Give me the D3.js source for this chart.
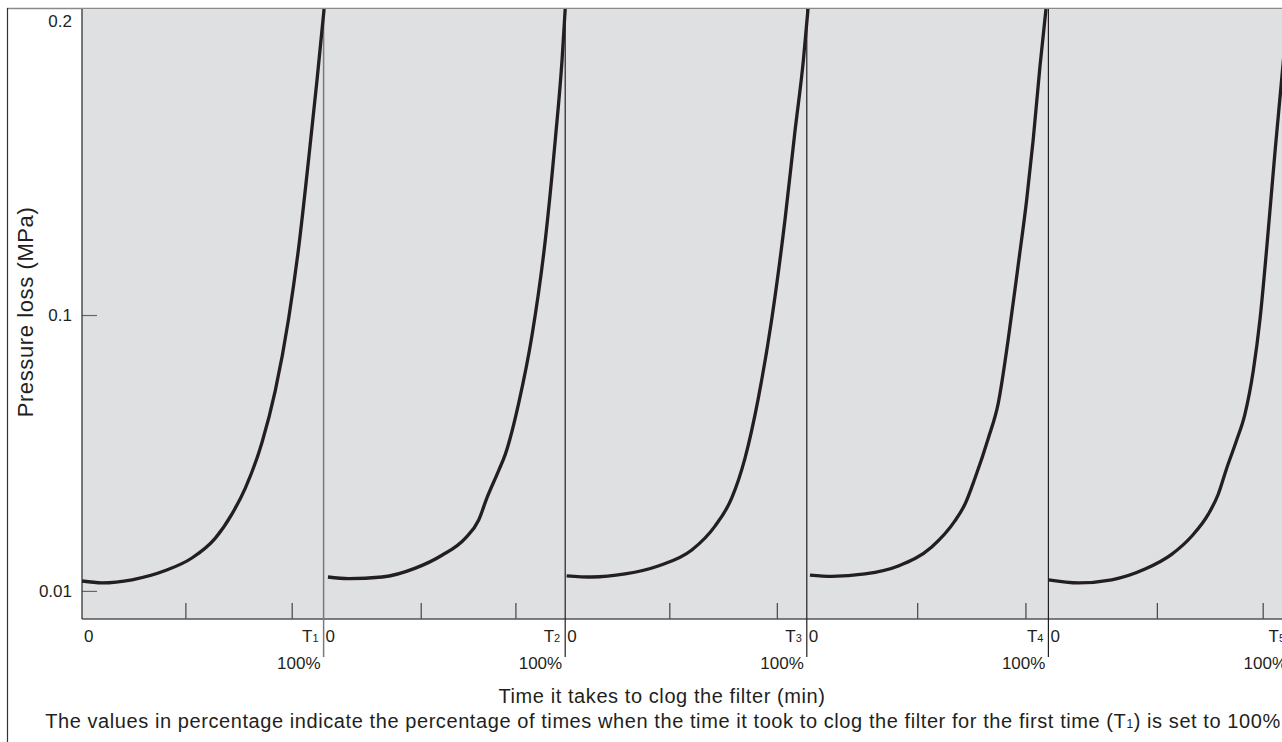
<!DOCTYPE html>
<html><head><meta charset="utf-8">
<script src="https://cdn.jsdelivr.net/npm/d3@7"></script>
<style>body{margin:0;background:#fff;overflow:hidden} text{font-family:"Liberation Sans",Arial,Helvetica,sans-serif;fill:#231f20}</style>
</head><body><svg id="c" width="1282" height="742"></svg>
<script>
// ---- data ----
const panelNames = ["T","T","T","T","T"];
const panelSubs = ["1","2","3","4","5"];
const startLabel = "0";
const endLabel = "100%";
const yTicks = [0.01, 0.1, 0.2];
const yTickLabels = ["0.01", "0.1", "0.2"];
const minorTicks1 = [43.0, 87.0];
const minorTicks2 = [40.4, 79.6];
const minorTicks3 = [43.3, 87.8];
const minorTicks4 = [45.9, 90.7];
const minorTicks5 = [45.1, 88.9];
// percentage of clog time (x) vs pressure loss MPa (y)
const curve1 = [[0,0.0134],[8.3,0.0128],[20.7,0.0138],[34.5,0.0168],[45.5,0.0209],[55.2,0.0274],[62.1,0.0353],[67.6,0.0437],[74.5,0.0586],[80.0,0.0755],[85.5,0.0989],[89.7,0.1223],[93.8,0.1510],[97.3,0.1770],[100.2,0.2]];
const curve2 = [[1.8,0.0147],[10.4,0.0142],[24.2,0.0147],[38.0,0.0176],[49.0,0.0218],[58.7,0.0274],[64.2,0.0333],[67.6,0.0405],[72.5,0.0495],[75.2,0.0547],[80.8,0.0716],[86.3,0.0937],[91.8,0.1249],[95.9,0.1574],[98.7,0.1834],[100,0.2]];
const curve3 = [[0.6,0.0151],[11.0,0.0147],[24.8,0.0157],[38.5,0.0183],[52.4,0.0235],[62.0,0.0313],[68.9,0.0404],[74.4,0.0534],[79.9,0.0729],[85.5,0.0989],[91.0,0.1314],[95.1,0.1601],[98.6,0.1834],[100.5,0.2]];
const curve4 = [[1.3,0.0153],[10.3,0.0149],[24.1,0.0157],[37.9,0.0183],[51.7,0.0245],[61.3,0.0330],[65.5,0.0385],[69.6,0.0469],[75.1,0.0599],[79.3,0.0716],[83.4,0.0924],[87.5,0.1165],[91.0,0.1377],[93.7,0.1573],[96.5,0.1812],[99.0,0.2]];
const curve5 = [[0,0.0138],[12.4,0.0128],[26.2,0.0138],[40.0,0.0173],[51.0,0.0221],[59.3,0.0280],[66.2,0.0352],[70.3,0.0417],[73.8,0.0502],[77.9,0.0593],[81.3,0.0677],[84.8,0.0820],[87.6,0.0989],[90.4,0.1223],[93.8,0.1535],[96.7,0.1783],[99.2,0.2]];
const curves = [curve1, curve2, curve3, curve4, curve5];
const minorTicks = [minorTicks1, minorTicks2, minorTicks3, minorTicks4, minorTicks5];
const yTitle = "Pressure loss (MPa)";
const xTitle = "Time it takes to clog the filter (min)";
const notePre = "The values in percentage indicate the percentage of times when the time it took to clog the filter for the first time (T";
const noteSub = "1";
const notePost = ") is set to 100%";

// ---- layout ----
const W = 1282, H = 742;
const plotL = 82, plotT = 9, plotB = 619;
const panelW = 241.6;
const nP = curves.length;
const svg = d3.select("#c");
const x = d3.scaleLinear().domain([0, nP * 100]).range([plotL, plotL + panelW * nP]);
const y = d3.scaleLinear().domain([0.001, 0.2]).range([plotB, plotT]);
const ink = "#231f20";

// outer frame
svg.append("line").attr("x1", 7).attr("x2", W).attr("y1", 8.5).attr("y2", 8.5).attr("stroke", "#8a8a8a").attr("stroke-width", 1.6);
svg.append("line").attr("x1", 7.5).attr("x2", 7.5).attr("y1", 8).attr("y2", H).attr("stroke", "#333").attr("stroke-width", 1.2);

// plot background
svg.append("rect").attr("x", x(0)).attr("y", plotT + 0.5).attr("width", x(nP * 100) - x(0)).attr("height", plotB - plotT - 0.5).attr("fill", "#dfe0e2");

const defs = svg.append("defs");
defs.append("clipPath").attr("id", "clip").append("rect").attr("x", x(0)).attr("y", plotT).attr("width", x(nP * 100) - x(0)).attr("height", plotB - plotT);

// y ticks
const yt = svg.append("g");
yTicks.forEach((v, i) => {
  const isTop = v === y.domain()[1];
  if (!isTop) {
    yt.append("line").attr("x1", plotL).attr("x2", plotL + 15).attr("y1", y(v)).attr("y2", y(v)).attr("stroke", "#666").attr("stroke-width", 1.2);
  }
  yt.append("text").attr("x", plotL - 10).attr("y", isTop ? y(v) + 12 : y(v)).attr("dy", "0.35em")
    .attr("text-anchor", "end").attr("font-size", 17).text(yTickLabels[i]);
});

// minor x ticks
minorTicks.forEach((arr, p) => {
  arr.forEach(t => {
    svg.append("line").attr("x1", x(p * 100 + t)).attr("x2", x(p * 100 + t)).attr("y1", plotB - 16).attr("y2", plotB)
      .attr("stroke", "#444").attr("stroke-width", 1.2);
  });
});

// axes lines
svg.append("line").attr("x1", plotL).attr("x2", W).attr("y1", plotB).attr("y2", plotB).attr("stroke", "#555").attr("stroke-width", 1.3);
svg.append("line").attr("x1", plotL).attr("x2", plotL).attr("y1", plotT).attr("y2", plotB).attr("stroke", "#333").attr("stroke-width", 1.3);

// dividers
for (let p = 1; p <= nP; p++) {
  svg.append("line").attr("x1", x(p * 100)).attr("x2", x(p * 100)).attr("y1", plotT).attr("y2", 657)
    .attr("stroke", p === 1 ? "#7a7a7a" : ink).attr("stroke-width", p === 1 ? 1.5 : 1.2);
}

// curves
const line = d3.line().x(d => d[0]).y(d => d[1]).curve(d3.curveMonotoneX);
curves.forEach((c, p) => {
  svg.append("path").attr("clip-path", "url(#clip)")
    .attr("d", line(c.map(d => [x(p * 100 + d[0]), y(d[1])])))
    .attr("fill", "none").attr("stroke", ink).attr("stroke-width", 3.3).attr("stroke-linejoin", "round");
});

// x labels
curves.forEach((c, p) => {
  svg.append("text").attr("x", x(p * 100) + 2).attr("y", 642).attr("font-size", 17).text(startLabel);
  const t = svg.append("text").attr("x", x((p + 1) * 100) - 5).attr("y", 642).attr("text-anchor", "end").attr("font-size", 17);
  t.append("tspan").text(panelNames[p]);
  t.append("tspan").attr("font-size", 11).text(panelSubs[p]);
  svg.append("text").attr("x", x((p + 1) * 100) - 3).attr("y", 669).attr("text-anchor", "end").attr("font-size", 17).text(endLabel);
});

// titles
svg.append("text").attr("transform", `translate(33,312) rotate(-90)`).attr("text-anchor", "middle")
  .attr("font-size", 22).attr("letter-spacing", 0.6).text(yTitle);
svg.append("text").attr("x", 662).attr("y", 703).attr("text-anchor", "middle").attr("font-size", 20).attr("letter-spacing", 0.58).text(xTitle);
const n = svg.append("text").attr("x", 663).attr("y", 728).attr("text-anchor", "middle").attr("font-size", 20).attr("letter-spacing", 0.58);
n.append("tspan").text(notePre);
n.append("tspan").attr("font-size", 12).text(noteSub);
n.append("tspan").text(notePost);
</script></body></html>
